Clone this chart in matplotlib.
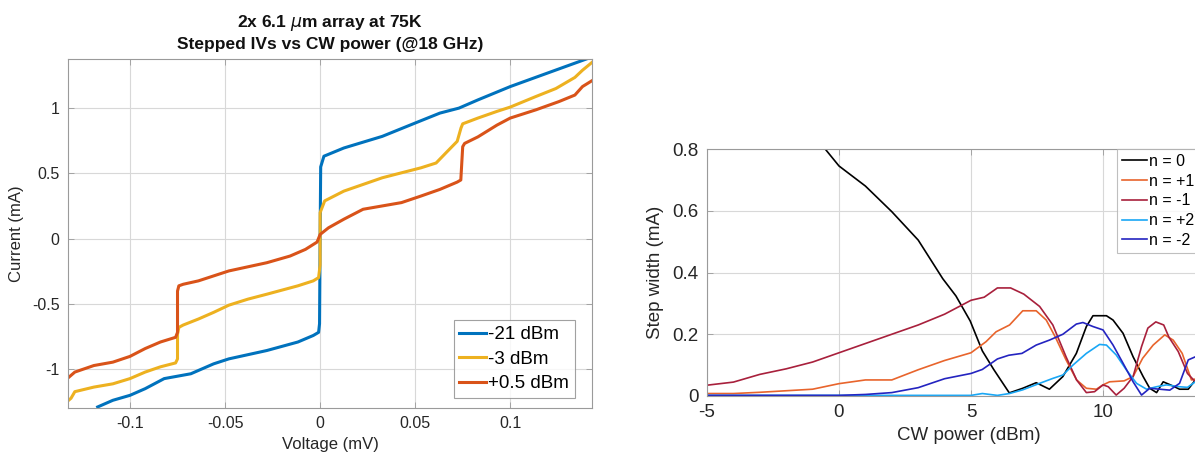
import numpy as np
import matplotlib
matplotlib.use('Agg')
import matplotlib.pyplot as plt

plt.rcParams['font.family'] = ['Liberation Sans', 'DejaVu Sans']
plt.rcParams['axes.unicode_minus'] = False

# left panel: stepped IV curves (voltage mV, current mA)
v_m21 = [-0.117, -0.109, -0.1, -0.092, -0.082, -0.068, -0.056, -0.048, -0.028, -0.0117, -0.0036, -0.0008, -0.0003,
         0.0, 0.0003, 0.002, 0.0125, 0.0327, 0.05, 0.063, 0.073, 0.083, 0.1, 0.1237, 0.1408]
i_m21 = [-1.287, -1.236, -1.198, -1.147, -1.07, -1.033, -0.957, -0.919, -0.855, -0.79, -0.74, -0.716, -0.65,
         0.0, 0.55, 0.632, 0.695, 0.784, 0.886, 0.962, 1.0, 1.063, 1.165, 1.29, 1.38]

v_m3 = [-0.133, -0.131, -0.129, -0.119, -0.109, -0.1, -0.092, -0.084, -0.076, -0.075, -0.075, -0.0743, -0.072,
        -0.064, -0.056, -0.048, -0.038, -0.028, -0.0117, -0.0036, -0.0008, 0.0, 0.0, 0.0024, 0.0125, 0.0226,
        0.0327, 0.0428, 0.053, 0.061, 0.067, 0.0721, 0.0741, 0.075, 0.083, 0.093, 0.1, 0.1135, 0.124, 0.134,
        0.138, 0.143]
i_m3 = [-1.245, -1.22, -1.17, -1.135, -1.11, -1.07, -1.02, -0.98, -0.95, -0.919, -0.73, -0.678, -0.66,
        -0.614, -0.563, -0.508, -0.462, -0.424, -0.36, -0.322, -0.297, -0.2, 0.2, 0.29, 0.365, 0.416,
        0.467, 0.505, 0.543, 0.58, 0.67, 0.746, 0.848, 0.88, 0.924, 0.975, 1.008, 1.089, 1.15, 1.235,
        1.29, 1.35]

v_p05 = [-0.133, -0.129, -0.119, -0.109, -0.1, -0.092, -0.084, -0.076, -0.075, -0.075, -0.0743, -0.072, -0.064,
         -0.048, -0.028, -0.0158, -0.0077, -0.0016, 0.0, 0.0044, 0.0125, 0.0226, 0.0428, 0.053, 0.063, 0.0721,
         0.074, 0.075, 0.076, 0.083, 0.093, 0.1, 0.1135, 0.1256, 0.134, 0.138, 0.143]
i_p05 = [-1.07, -1.02, -0.97, -0.944, -0.9, -0.84, -0.79, -0.754, -0.716, -0.4, -0.36, -0.348, -0.322,
         -0.246, -0.183, -0.132, -0.081, -0.025, 0.033, 0.084, 0.15, 0.226, 0.277, 0.327, 0.378, 0.434,
         0.45, 0.705, 0.73, 0.78, 0.87, 0.924, 0.987, 1.05, 1.1, 1.165, 1.21]

# right panel: step width vs CW power
p_n0 = [-1, 0, 1, 2, 3, 3.93, 4.43, 4.97, 5.43, 5.86, 6.45, 6.96, 7.47, 7.97, 8.48, 8.99, 9.37, 9.62, 10.13,
        10.38, 10.76, 11.14, 11.52, 11.77, 12.03, 12.28, 12.66, 12.9, 13.23, 13.5]
w_n0 = [0.85, 0.745, 0.68, 0.597, 0.505, 0.38, 0.324, 0.243, 0.146, 0.086, 0.01, 0.025, 0.043, 0.022, 0.063,
        0.138, 0.225, 0.26, 0.26, 0.246, 0.203, 0.127, 0.063, 0.025, 0.011, 0.046, 0.032, 0.022, 0.022, 0.052]

p_p1 = [-5, -4, -3, -2, -1, 0, 1, 2, 3, 4, 5, 5.57, 5.95, 6.46, 6.96, 7.47, 7.85, 8.2, 8.6, 9.0, 9.37, 9.75,
        10.0, 10.25, 10.8, 11.14, 11.5, 11.9, 12.34, 12.66, 13.0, 13.35, 13.5]
w_p1 = [0.008, 0.008, 0.012, 0.017, 0.022, 0.04, 0.052, 0.052, 0.085, 0.115, 0.14, 0.176, 0.208, 0.23, 0.276,
        0.276, 0.246, 0.19, 0.117, 0.052, 0.025, 0.022, 0.036, 0.046, 0.049, 0.063, 0.122, 0.165, 0.198, 0.181,
        0.138, 0.052, 0.055]

p_m1 = [-5, -4, -3, -2, -1, 0, 1, 2, 3, 4, 5, 5.5, 6, 6.5, 7, 7.6, 8.1, 8.6, 9.0, 9.37, 9.68, 10.0, 10.2, 10.5,
        10.8, 11.14, 11.46, 11.7, 12.0, 12.3, 12.5, 12.85, 13.2, 13.5]
w_m1 = [0.035, 0.045, 0.07, 0.088, 0.11, 0.14, 0.17, 0.2, 0.23, 0.265, 0.31, 0.32, 0.35, 0.35, 0.33, 0.29,
        0.23, 0.127, 0.052, 0.011, 0.014, 0.036, 0.03, 0.003, 0.025, 0.063, 0.16, 0.22, 0.24, 0.23, 0.19,
        0.144, 0.073, 0.046]

p_p2 = [-5, 0, 5, 5.43, 6.0, 6.46, 6.96, 7.6, 8.1, 8.48, 8.86, 9.37, 9.87, 10.13, 10.5, 10.89, 11.27, 11.65,
        12.03, 12.4, 12.9, 13.2, 13.5]
w_p2 = [0.002, 0.002, 0.002, 0.008, 0.002, 0.008, 0.02, 0.041, 0.057, 0.068, 0.1, 0.138, 0.167, 0.165, 0.133,
        0.084, 0.041, 0.022, 0.03, 0.036, 0.03, 0.028, 0.046]

p_m2 = [-5, 0, 1, 2, 3, 4, 5, 5.43, 6.0, 6.43, 6.93, 7.47, 7.97, 8.48, 8.99, 9.24, 9.62, 10.0, 10.38, 10.76,
        11.14, 11.46, 11.77, 12.15, 12.53, 12.9, 13.23, 13.5]
w_m2 = [0.002, 0.002, 0.005, 0.011, 0.027, 0.056, 0.073, 0.086, 0.12, 0.132, 0.138, 0.165, 0.181, 0.2, 0.233,
        0.238, 0.225, 0.214, 0.165, 0.106, 0.046, 0.003, 0.025, 0.022, 0.019, 0.041, 0.117, 0.127]

W, H = 1195, 458
fig = plt.figure(figsize=(W / 100, H / 100), dpi=100)

tick_col = '#262626'
spine_col = '#9a9a9a'

def style(ax, fs):
    ax.grid(True, color='#d8d8d8', linewidth=0.8)
    ax.set_axisbelow(True)
    ax.tick_params(direction='in', top=True, right=True, length=4, width=0.6,
                   colors=spine_col, labelcolor=tick_col, labelsize=fs, pad=6)
    for s in ax.spines.values():
        s.set_color(spine_col)
        s.set_linewidth(0.8)

# --- left plot
ax1 = fig.add_axes([68 / W, 1 - 408 / H, (592 - 68) / W, (408 - 59) / H])
ax1.plot(v_m21, i_m21, color='#0072BD', lw=2.2, label='-21 dBm')
ax1.plot(v_m3, i_m3, color='#EDB120', lw=2.2, label='-3 dBm')
ax1.plot(v_p05, i_p05, color='#D95319', lw=2.2, label='+0.5 dBm')
ax1.set_xlim(-0.1326, 0.143)
ax1.set_ylim(-1.295, 1.376)
ax1.set_xticks([-0.1, -0.05, 0, 0.05, 0.1])
ax1.set_xticklabels(['-0.1', '-0.05', '0', '0.05', '0.1'])
ax1.set_yticks([-1, -0.5, 0, 0.5, 1])
ax1.set_yticklabels(['-1', '-0.5', '0', '0.5', '1'])
style(ax1, 11.5)
ax1.set_xlabel('Voltage (mV)', fontsize=12, color=tick_col, labelpad=4)
ax1.set_ylabel('Current (mA)', fontsize=12, color=tick_col, labelpad=6)
ax1.set_title('2x 6.1 $\\mu$m array at 75K\nStepped IVs vs CW power (@18 GHz)',
              fontsize=12.5, fontweight='bold', color='#111111', pad=7, linespacing=1.35)
leg1 = ax1.legend(loc='lower right', bbox_to_anchor=(575 / W, 1 - 398 / H), bbox_transform=fig.transFigure,
                  fontsize=13.5, frameon=True, fancybox=False, borderaxespad=0, handlelength=1.4,
                  handletextpad=0.15, labelspacing=0.4, borderpad=0.3)
leg1.get_frame().set_edgecolor('#8a8a8a')
leg1.get_frame().set_linewidth(0.8)

# --- right plot (runs off the right edge of the figure)
ax2 = fig.add_axes([707 / W, 1 - 396 / H, (1230 - 707) / W, (396 - 149) / H])
ax2.plot(p_n0, w_n0, color='#000000', lw=1.2, label='n = 0')
ax2.plot(p_p1, w_p1, color='#E8642C', lw=1.2, label='n = +1')
ax2.plot(p_m1, w_m1, color='#A8203C', lw=1.2, label='n = -1')
ax2.plot(p_p2, w_p2, color='#1AA7F5', lw=1.2, label='n = +2')
ax2.plot(p_m2, w_m2, color='#2424C0', lw=1.2, label='n = -2')
ax2.set_xlim(-5, -5 + (1230 - 707) / 26.4)
ax2.set_ylim(0, 0.8)
ax2.set_xticks([-5, 0, 5, 10])
ax2.set_yticks([0, 0.2, 0.4, 0.6, 0.8])
ax2.set_yticklabels(['0', '0.2', '0.4', '0.6', '0.8'])
style(ax2, 13.5)
ax2.set_xlabel('CW power (dBm)', fontsize=13.5, color=tick_col, labelpad=4)
ax2.set_ylabel('Step width (mA)', fontsize=13.5, color=tick_col, labelpad=6)
leg2 = ax2.legend(loc='upper left', bbox_to_anchor=(1117 / W, 1 - 149 / H), bbox_transform=fig.transFigure,
                  fontsize=11.5, frameon=True, fancybox=False, borderaxespad=0, handlelength=1.6,
                  handletextpad=0.1, labelspacing=0.3, borderpad=0.3)
leg2.get_frame().set_edgecolor('#b0b0b0')
leg2.get_frame().set_linewidth(0.8)

fig.savefig('out.png', dpi=100)
